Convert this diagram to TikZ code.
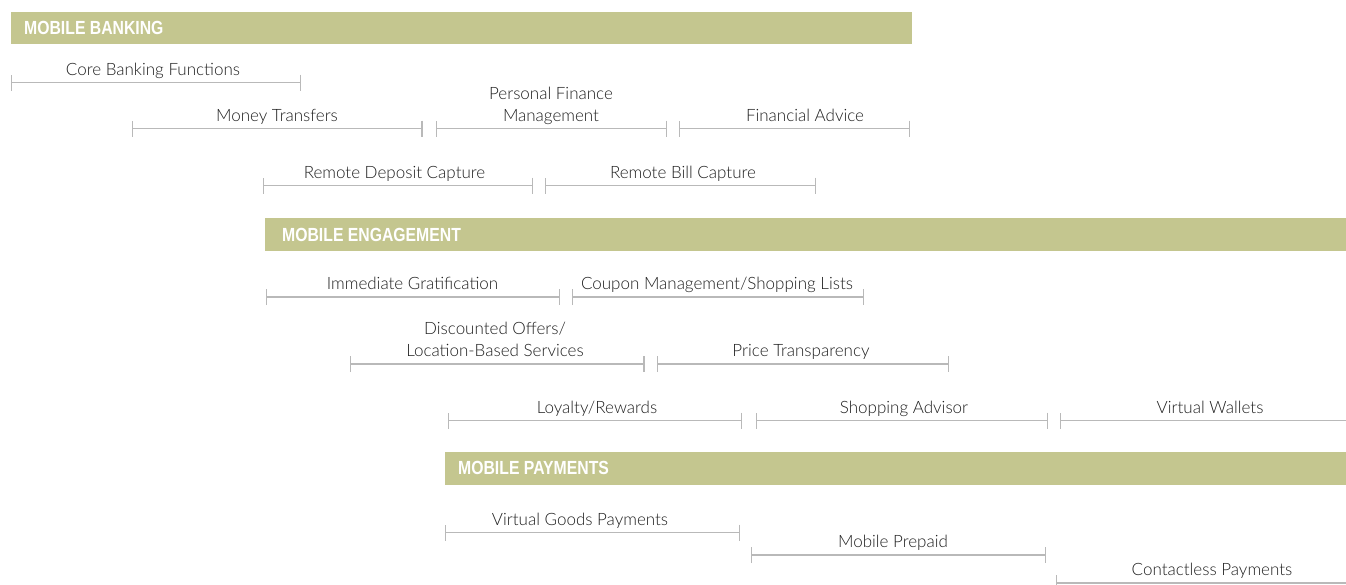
\documentclass[tikz,border=0pt]{standalone}
\usepackage{fontspec}
\IfFontExistsTF{Lato Light}{\setmainfont{Lato Light}}{\setmainfont{Lato}}
\newfontfamily\headfont{Liberation Sans}[FakeStretch=0.83]
\usetikzlibrary{arrows.meta}
\definecolor{barolive}{RGB}{196,198,143}
\definecolor{spangray}{RGB}{185,185,185}
\definecolor{labelgray}{RGB}{30,30,30}

\begin{document}
\begin{tikzpicture}[
  x=1pt,y=-1pt,
  head/.style={anchor=base west,inner sep=0pt,text=white,font=\headfont\bfseries\fontsize{19}{21}\selectfont},
  item/.style={anchor=base,inner sep=0pt,text=labelgray,align=center,font=\fontsize{17}{22.5}\selectfont},
  span/.style={draw=spangray,line width=1.8pt,{Bar[width=16pt,line width=1.3pt]}-{Bar[width=16pt,line width=1.3pt]}},
  openspan/.style={span,{Bar[width=16pt,line width=1.3pt]}-}]
  \useasboundingbox (0,0) rectangle (1346,584);

  % mobile banking
  \fill[barolive] (11,11.5) rectangle (912,43.5);
  \node[head] (banking) at (24,34) {MOBILE BANKING};
  \coordinate (core-w) at (11,82.5); \coordinate (core-e) at (301,82.5);
  \draw[span] (core-w) -- (core-e);
  \node[item] (core) at (153,75.5) {Core Banking Functions};
  \coordinate (money-w) at (132,128.5); \coordinate (money-e) at (422.5,128.5);
  \draw[span] (money-w) -- (money-e);
  \node[item] (money) at (277,121.5) {Money Transfers};
  \coordinate (pfm-w) at (435.5,128.5); \coordinate (pfm-e) at (667,128.5);
  \draw[span] (pfm-w) -- (pfm-e);
  \node[item] (pfm) at (551,121.5) {Personal Finance\\Management};
  \coordinate (advice-w) at (679,128.5); \coordinate (advice-e) at (910,128.5);
  \draw[span] (advice-w) -- (advice-e);
  \node[item] (advice) at (805,121.5) {Financial Advice};
  \coordinate (deposit-w) at (263,185.5); \coordinate (deposit-e) at (533,185.5);
  \draw[span] (deposit-w) -- (deposit-e);
  \node[item] (deposit) at (394.5,178) {Remote Deposit Capture};
  \coordinate (bill-w) at (545,185.5); \coordinate (bill-e) at (816,185.5);
  \draw[span] (bill-w) -- (bill-e);
  \node[item] (bill) at (683,178) {Remote Bill Capture};

  % mobile engagement
  \fill[barolive] (265,218) rectangle (1346,250.5);
  \node[head] (engagement) at (282,241) {MOBILE ENGAGEMENT};
  \coordinate (instant-w) at (265.5,297); \coordinate (instant-e) at (560,297);
  \draw[span] (instant-w) -- (instant-e);
  \node[item] (instant) at (412.5,289.5) {Immediate Gratification};
  \coordinate (coupon-w) at (572,297); \coordinate (coupon-e) at (864,297);
  \draw[span] (coupon-w) -- (coupon-e);
  \node[item] (coupon) at (717,289.5) {Coupon Management/Shopping Lists};
  \coordinate (offers-w) at (350,364); \coordinate (offers-e) at (644.5,364);
  \draw[span] (offers-w) -- (offers-e);
  \node[item] (offers) at (495,356.5) {Discounted Offers/\\Location-Based Services};
  \coordinate (price-w) at (656.5,364); \coordinate (price-e) at (949,364);
  \draw[span] (price-w) -- (price-e);
  \node[item] (price) at (801,356.5) {Price Transparency};
  \coordinate (loyalty-w) at (448,420.5); \coordinate (loyalty-e) at (742,420.5);
  \draw[span] (loyalty-w) -- (loyalty-e);
  \node[item] (loyalty) at (597,413) {Loyalty/Rewards};
  \coordinate (advisor-w) at (755.5,420.5); \coordinate (advisor-e) at (1048,420.5);
  \draw[span] (advisor-w) -- (advisor-e);
  \node[item] (advisor) at (904,413) {Shopping Advisor};
  \coordinate (wallets-w) at (1060,420.5); \coordinate (wallets-e) at (1346,420.5);
  \draw[openspan] (wallets-w) -- (wallets-e);
  \node[item] (wallets) at (1210,413) {Virtual Wallets};

  % mobile payments
  \fill[barolive] (445,451.5) rectangle (1346,484.5);
  \node[head] (payments) at (458,474.5) {MOBILE PAYMENTS};
  \coordinate (goods-w) at (445,532.5); \coordinate (goods-e) at (740,532.5);
  \draw[span] (goods-w) -- (goods-e);
  \node[item] (goods) at (580,525) {Virtual Goods Payments};
  \coordinate (prepaid-w) at (751,555); \coordinate (prepaid-e) at (1046,555);
  \draw[span] (prepaid-w) -- (prepaid-e);
  \node[item] (prepaid) at (893,547.5) {Mobile Prepaid};
  \coordinate (contactless-w) at (1056,583); \coordinate (contactless-e) at (1346,583);
  \draw[openspan] (contactless-w) -- (contactless-e);
  \node[item] (contactless) at (1212,575.5) {Contactless Payments};
\end{tikzpicture}
\end{document}
